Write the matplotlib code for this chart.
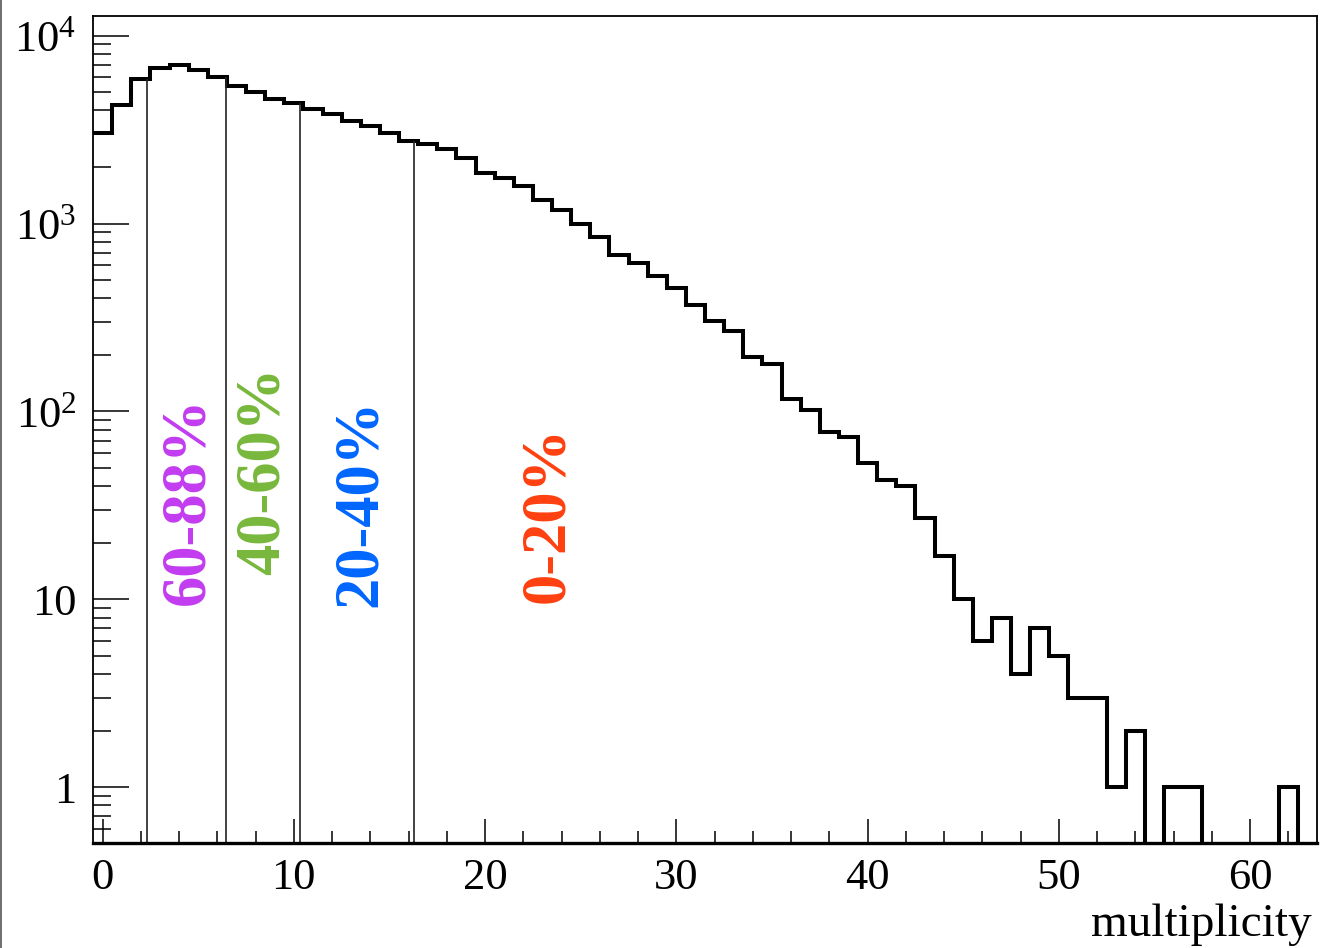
import numpy as np
import matplotlib
matplotlib.use("Agg")
import matplotlib.pyplot as plt
from matplotlib.lines import Line2D
from matplotlib.ticker import LogLocator, MultipleLocator, NullFormatter

plt.rcParams["font.family"] = ["Liberation Serif", "DejaVu Serif"]
plt.rcParams["mathtext.fontset"] = "custom"
plt.rcParams["mathtext.rm"] = "Liberation Serif"
plt.rcParams["mathtext.it"] = "Liberation Serif:italic"
plt.rcParams["mathtext.bf"] = "Liberation Serif:bold"

# multiplicity histogram, one bin per integer 0..63
counts = [3030, 4280, 5890, 6730, 6950, 6560, 6050, 5420, 5030, 4600,
          4370, 4060, 3820, 3530, 3320, 3030, 2760, 2650, 2490, 2240,
          1860, 1755, 1580, 1335, 1178, 1000, 850, 683, 615, 524,
          456, 369, 304, 269, 194, 178, 117, 102, 78, 73,
          53, 43, 40, 27, 17, 10, 6, 8, 4, 7,
          5, 3, 3, 1, 2, 0, 1, 1, 0, 0,
          0, 0, 1, 0]
cuts = [2.3, 6.45, 10.3, 16.3]
classes = ["60-88%", "40-60%", "20-40%", "0-20%"]
class_x = [4.48, 8.4, 13.52, 23.3]
class_y = [9.3, 13.5, 9.1, 9.6]
class_colors = ["#c23cf0", "#78b83c", "#0066ff", "#ff4010"]
ytick_vals = [1, 10, 100, 1000, 10000]
ytick_labels = ["1", "10", "$10^{2}$", "$10^{3}$", "$10^{4}$"]

counts = np.array(counts, dtype=float)
edges = np.arange(len(counts) + 1) - 0.5
ylo, yhi = 0.505, 1.273e4

fig = plt.figure(figsize=(13.2, 9.48), dpi=100)
ax = fig.add_axes([93 / 1320, 105 / 948, 1224 / 1320, 827 / 948])
ax.set_yscale("log")

ax.stairs(counts, edges, color="black", lw=2.9, baseline=None)
tops = [counts[int(np.floor(c + 0.5))] for c in cuts]
ax.vlines(cuts, ylo, tops, color="#222222", lw=1.2)

for s, x, y, c in zip(classes, class_x, class_y, class_colors):
    ax.text(x, y, s, rotation=90, ha="center", va="bottom", color=c,
            fontsize=45, fontweight="bold")

ax.set_xlim(-0.5, 63.5)
ax.set_ylim(ylo, yhi)
ax.xaxis.set_major_locator(MultipleLocator(10))
ax.xaxis.set_minor_locator(MultipleLocator(2))
ax.set_yticks(ytick_vals, labels=ytick_labels)
ax.yaxis.set_minor_locator(LogLocator(base=10, subs=np.arange(2, 10), numticks=20))
ax.yaxis.set_minor_formatter(NullFormatter())

ax.tick_params(axis="both", which="both", direction="in", top=False, right=False,
               width=1.1, color="black")
ax.tick_params(axis="y", which="major", length=26, pad=12, labelsize=32)
ax.tick_params(axis="y", which="minor", length=13)
ax.tick_params(axis="x", which="major", length=17, pad=11, labelsize=32)
ax.tick_params(axis="x", which="minor", length=8.6)

for side in ["top", "right", "left"]:
    ax.spines[side].set_linewidth(1.3)
ax.spines["bottom"].set_linewidth(2.4)

ax.set_xlabel("multiplicity", loc="right", fontsize=34)
ax.xaxis.set_label_coords(0.996, -0.099)
ax.xaxis.label.set_va("center")

fig.add_artist(Line2D([0.001, 0.001], [0, 1], color="#555555", lw=1.2))

fig.savefig("out.png", dpi=100)
